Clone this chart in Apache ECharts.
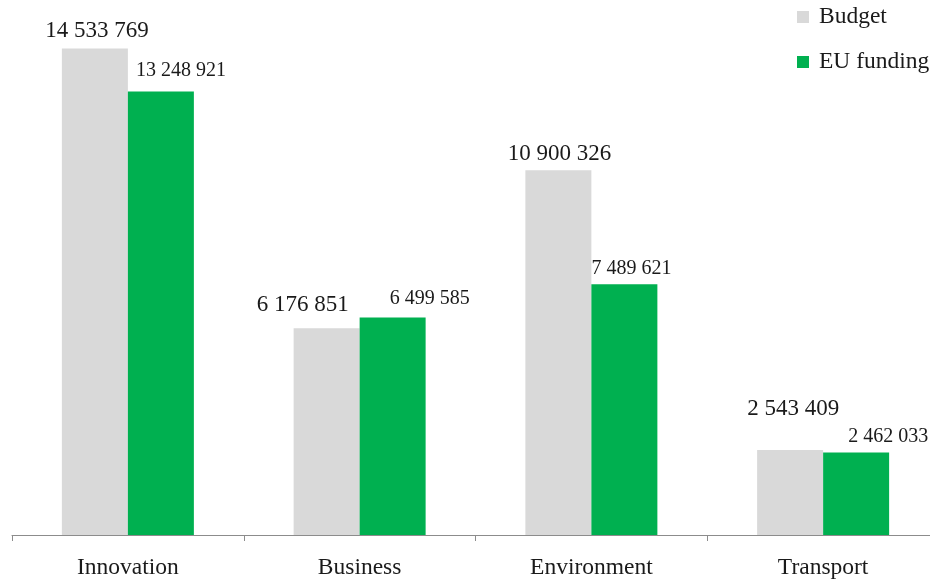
<!DOCTYPE html>
<html>
<head>
<meta charset="utf-8">
<script src="https://cdn.jsdelivr.net/npm/echarts@6/dist/echarts.min.js"></script>
<style>
html,body{margin:0;padding:0;background:#fff;overflow:hidden;width:930px;height:581px;}
#chart{width:945px;height:581px;}
</style>
</head>
<body>
<div id="chart"></div>
<script>
const categories = ['Innovation', 'Business', 'Environment', 'Transport'];
const budget = [14533769, 6176851, 10900326, 2543409];
const euFunding = [13248921, 6499585, 7489621, 2462033];

// label placement style (pixel shifts relative to the top of each bar)
const budgetLabelShift = [[2, -6], [-24, -12], [1, -5], [3, -29]];
const euLabelShift = [[20, -11], [37, -9], [7, -6], [32, -6]];

const fmt = v => String(v).replace(/\B(?=(\d{3})+(?!\d))/g, ' ');
const FONT = '"Liberation Serif", "Times New Roman", serif';

function build(values, shifts) {
  return values.map((v, i) => ({
    value: v,
    label: { offset: shifts[i] }
  }));
}

const chart = echarts.init(document.getElementById('chart'), null, { renderer: 'canvas' });
chart.setOption({
  animation: false,
  backgroundColor: '#ffffff',
  textStyle: { fontFamily: FONT },
  legend: {
    orient: 'vertical',
    left: 792,
    top: 0,
    itemWidth: 12,
    itemHeight: 12,
    itemGap: 21,
    icon: 'rect',
    textStyle: { fontFamily: FONT, fontSize: 23.5, color: '#1a1a1a', padding: [0, 0, 0, 5] },
    data: ['Budget', 'EU funding']
  },
  grid: { left: 12, right: 6, top: 33, bottom: 46, containLabel: false },
  xAxis: {
    type: 'category',
    data: categories,
    boundaryGap: true,
    axisLine: { show: true, lineStyle: { color: '#8c8c8c', width: 1 } },
    axisTick: { show: true, length: 6, lineStyle: { color: '#8c8c8c' } },
    axisLabel: { fontFamily: FONT, fontSize: 23.5, color: '#1a1a1a', margin: 21 }
  },
  yAxis: {
    type: 'value',
    min: 0,
    max: 15000000,
    show: false,
    splitLine: { show: false }
  },
  series: [
    {
      name: 'Budget',
      type: 'bar',
      barWidth: 66,
      barGap: '0%',
      itemStyle: { color: '#d9d9d9' },
      label: {
        show: true, position: 'top', distance: 0,
        fontFamily: FONT, fontSize: 23, color: '#1a1a1a',
        formatter: p => fmt(p.value)
      },
      data: build(budget, budgetLabelShift)
    },
    {
      name: 'EU funding',
      type: 'bar',
      barWidth: 66,
      barGap: '0%',
      itemStyle: { color: '#00b050' },
      label: {
        show: true, position: 'top', distance: 0,
        fontFamily: FONT, fontSize: 20, color: '#1a1a1a',
        formatter: p => fmt(p.value)
      },
      data: build(euFunding, euLabelShift)
    }
  ]
});
</script>
</body>
</html>
